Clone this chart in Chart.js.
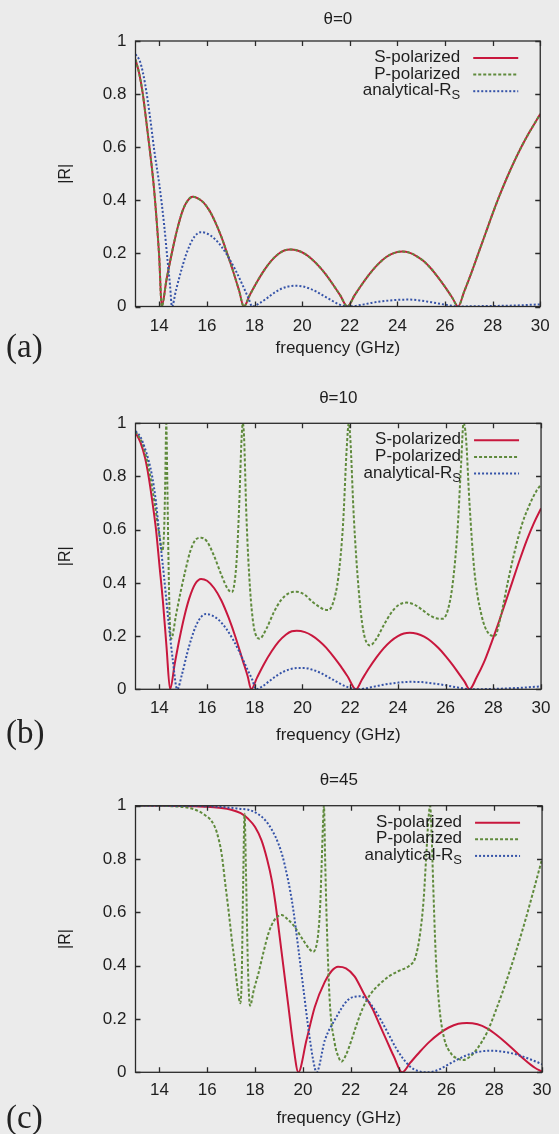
<!DOCTYPE html>
<html>
<head>
<meta charset="utf-8">
<script src="https://cdn.jsdelivr.net/npm/chart.js@4.4.1/dist/chart.umd.min.js"></script>
<style>
  html, body { margin: 0; padding: 0; background: #ebebeb; }
  #wrap { position: relative; width: 559px; height: 1134px; overflow: hidden; }
  canvas { position: absolute; left: 0; }
  .plabel { position: absolute; left: 6px; font: 33px "Liberation Serif", serif; color: #222; line-height: 33px; }
</style>
</head>
<body>
<div id="wrap">
  <canvas id="c0" width="559" height="380" style="top:0"></canvas>
  <canvas id="c10" width="559" height="380" style="top:380px"></canvas>
  <canvas id="c45" width="559" height="374" style="top:760px"></canvas>
  <div class="plabel" style="top:330px">(a)</div>
  <div class="plabel" style="top:716px">(b)</div>
  <div class="plabel" style="top:1101px">(c)</div>
</div>
<script>
// frequency ticks and |R| ticks
const xTicks = [14, 16, 18, 20, 22, 24, 26, 28, 30];
const yTicks = [0, 0.2, 0.4, 0.6, 0.8, 1];
const seriesNames = ['S-polarized', 'P-polarized', 'analytical-R'];

// theta = 0
const fS0 = [13.0,13.15,13.3,13.45,13.6,13.75,13.9,14.0,14.1,
  14.3,14.5,14.75,15.0,15.2,15.4,15.6,15.85,16.1,16.35,16.6,16.85,17.1,17.35,17.55,
  17.8,18.1,18.4,18.7,19.0,19.25,19.5,19.8,20.1,20.4,20.7,21.0,21.3,21.6,21.9,
  22.2,22.5,22.8,23.1,23.4,23.7,24.0,24.2,24.5,24.8,25.1,25.4,25.7,26.0,26.3,26.55,
  26.8,27.1,27.4,27.7,28.0,28.3,28.6,28.9,29.2,29.5,29.8,30.0];
const rS0 = [0.93,0.88,0.805,0.70,0.59,0.47,0.31,0.18,0,
  0.10,0.19,0.29,0.366,0.40,0.413,0.408,0.392,0.362,0.318,0.264,0.20,0.133,0.06,0,
  0.043,0.092,0.136,0.172,0.198,0.211,0.215,0.211,0.199,0.179,0.152,0.12,0.082,0.042,0,
  0.042,0.082,0.119,0.151,0.177,0.195,0.205,0.207,0.203,0.19,0.171,0.144,0.111,0.074,0.034,0,
  0.055,0.125,0.20,0.275,0.35,0.42,0.485,0.545,0.60,0.65,0.695,0.725];
const fP0 = fS0;
const rP0 = rS0;
const fA0 = [13.0,13.2,13.4,13.6,13.8,14.0,14.2,14.35,14.45,14.53,
  14.7,14.9,15.1,15.3,15.5,15.74,16.0,16.3,16.6,16.9,17.2,17.5,17.75,17.9,
  18.2,18.5,18.8,19.1,19.4,19.7,20.0,20.3,20.6,20.9,21.2,21.5,21.9,
  22.2,22.6,23.0,23.5,24.0,24.5,25.0,25.5,26.0,26.6,27.2,28.0,29.0,30.0];
const rA0 = [0.95,0.92,0.84,0.72,0.58,0.46,0.31,0.17,0.08,0,
  0.061,0.129,0.189,0.235,0.266,0.28,0.275,0.257,0.227,0.186,0.137,0.08,0.03,0,
  0.012,0.03,0.05,0.066,0.075,0.078,0.076,0.068,0.056,0.04,0.025,0.01,0,
  0.002,0.008,0.015,0.021,0.025,0.026,0.022,0.015,0.007,0,0.001,0.002,0.004,0.008];

// theta = 10
const fS10 = [13.0,13.2,13.4,13.55,13.7,13.86,14.0,14.15,14.3,14.45,
  14.65,14.85,15.05,15.25,15.5,15.75,16.0,16.3,16.6,16.9,17.2,17.5,17.7,17.85,
  18.1,18.4,18.7,19.0,19.3,19.55,19.76,20.1,20.4,20.7,21.0,21.3,21.6,21.9,22.24,
  22.5,22.8,23.1,23.4,23.7,24.0,24.25,24.5,24.8,25.1,25.4,25.7,26.0,26.3,26.6,26.8,27.0,
  27.3,27.6,27.9,28.2,28.5,28.8,29.1,29.4,29.7,30.0];
const rS10 = [0.965,0.93,0.87,0.80,0.71,0.60,0.47,0.33,0.16,0,
  0.099,0.193,0.275,0.341,0.396,0.415,0.408,0.38,0.334,0.27,0.194,0.107,0.05,0,
  0.045,0.097,0.142,0.179,0.205,0.218,0.22,0.215,0.202,0.182,0.156,0.123,0.087,0.047,0,
  0.038,0.081,0.12,0.154,0.181,0.2,0.21,0.213,0.209,0.198,0.18,0.155,0.125,0.091,0.053,0.028,0,
  0.045,0.10,0.17,0.245,0.325,0.405,0.485,0.56,0.625,0.68];
const fP10 = [13.0,13.3,13.6,13.8,14.0,14.12,14.2,14.25,14.29,14.33,14.38,14.44,14.5,
  14.7,14.9,15.1,15.3,15.5,15.75,16.0,16.3,16.6,16.85,17.04,
  17.15,17.25,17.35,17.45,17.5,17.55,17.65,17.8,17.95,18.1,18.2,
  18.5,18.8,19.1,19.4,19.76,20.1,20.4,20.7,20.9,21.09,
  21.3,21.5,21.7,21.85,21.94,22.0,22.15,22.35,22.55,22.83,
  23.1,23.4,23.7,24.0,24.36,24.7,25.0,25.3,25.6,25.87,
  26.1,26.3,26.5,26.65,26.75,26.85,27.0,27.2,27.5,27.8,28.06,
  28.3,28.6,28.9,29.2,29.5,29.8,30.0];
const rP10 = [0.97,0.92,0.81,0.70,0.58,0.52,0.6,0.8,1.0,0.8,0.5,0.25,0.19,
  0.28,0.37,0.45,0.52,0.56,0.57,0.555,0.5,0.43,0.38,0.365,
  0.40,0.5,0.7,0.95,1.0,0.95,0.65,0.38,0.24,0.195,0.19,
  0.23,0.29,0.335,0.36,0.367,0.355,0.33,0.31,0.30,0.298,
  0.33,0.42,0.62,0.9,1.0,0.95,0.65,0.38,0.22,0.165,
  0.19,0.24,0.285,0.315,0.326,0.318,0.30,0.28,0.267,0.265,
  0.3,0.4,0.6,0.85,1.0,0.95,0.7,0.45,0.28,0.21,0.2,
  0.27,0.40,0.52,0.62,0.69,0.745,0.77];
const fA10 = [13.0,13.2,13.4,13.55,13.7,13.85,13.98,14.2,14.4,14.55,14.75,
  14.95,15.15,15.35,15.55,15.75,15.95,16.2,16.5,16.8,17.1,17.4,17.7,17.9,18.05,
  18.3,18.6,18.9,19.2,19.5,19.8,20.1,20.4,20.7,21.0,21.3,21.6,21.9,22.3,
  22.6,23.0,23.5,24.0,24.5,25.0,25.5,26.0,26.5,27.1,27.8,28.5,29.2,30.0];
const rA10 = [0.97,0.95,0.905,0.86,0.80,0.71,0.60,0.42,0.24,0.12,0,
  0.057,0.13,0.193,0.242,0.272,0.283,0.278,0.26,0.228,0.185,0.132,0.073,0.035,0,
  0.01,0.03,0.05,0.066,0.076,0.08,0.08,0.074,0.064,0.05,0.035,0.02,0.008,0,
  0.003,0.01,0.019,0.025,0.028,0.027,0.022,0.015,0.007,0,0.001,0.003,0.006,0.011];

// theta = 45
const fS45 = [13.0,14.0,15.0,15.5,16.0,16.5,17.0,17.4,17.72,18.0,18.27,18.5,18.7,18.85,19.0,19.18,19.39,19.6,19.81,
  20.15,20.5,20.92,21.2,21.47,21.8,22.16,22.58,22.9,23.2,23.5,23.8,24.15,
  24.5,24.9,25.3,25.7,26.1,26.5,26.85,27.3,27.7,28.1,28.5,28.9,29.3,29.7,30.0];
const rS45 = [1.0,1.0,0.999,0.998,0.996,0.992,0.985,0.972,0.95,0.92,0.87,0.80,0.72,0.635,0.53,0.40,0.25,0.10,0,
  0.121,0.246,0.34,0.38,0.396,0.39,0.36,0.29,0.24,0.18,0.12,0.06,0,
  0.037,0.078,0.115,0.145,0.168,0.182,0.185,0.18,0.165,0.14,0.11,0.077,0.045,0.017,0.003];
const fP45 = [13.0,14.0,14.5,15.0,15.5,15.9,16.2,16.4,16.6,16.75,16.9,17.03,17.15,17.24,17.32,17.38,
  17.44,17.5,17.56,17.62,17.7,17.79,
  17.95,18.14,18.35,18.56,18.8,19.11,19.35,19.6,20.01,20.25,20.43,
  20.55,20.64,20.72,20.78,20.84,20.88,20.93,20.99,21.12,21.33,21.5,21.61,
  21.8,22.03,22.25,22.5,22.8,23.2,23.6,24.0,24.45,24.7,
  24.9,25.05,25.15,25.25,25.32,25.38,25.45,25.55,25.7,25.9,26.2,26.5,26.7,
  27.0,27.3,27.7,28.1,28.5,28.9,29.3,29.7,30.0];
const rP45 = [1.0,1.0,0.998,0.995,0.985,0.965,0.94,0.90,0.82,0.71,0.60,0.496,0.41,0.334,0.28,0.259,
  0.35,0.7,0.97,0.75,0.4,0.25,
  0.31,0.371,0.45,0.521,0.57,0.59,0.575,0.552,0.496,0.465,0.452,
  0.47,0.52,0.62,0.77,0.93,1.0,0.8,0.584,0.271,0.109,0.055,0.04,
  0.065,0.12,0.18,0.24,0.29,0.33,0.36,0.38,0.40,0.43,
  0.52,0.65,0.8,0.95,1.0,0.9,0.7,0.45,0.25,0.13,0.07,0.05,0.046,
  0.06,0.09,0.15,0.24,0.34,0.45,0.57,0.70,0.80];
const fA45 = [13.0,15.0,16.0,16.5,17.0,17.4,17.72,18.1,18.42,18.7,18.97,19.15,19.32,19.47,19.6,19.8,20.01,20.22,20.43,20.57,
  20.92,21.33,21.88,22.4,22.7,23.0,23.3,23.6,23.9,24.2,24.5,24.8,25.2,
  25.5,25.8,26.1,26.4,26.8,27.2,27.6,27.9,28.3,28.7,29.1,29.5,29.8,30.0];
const rA45 = [1.0,0.999,0.998,0.996,0.992,0.988,0.985,0.97,0.946,0.91,0.859,0.81,0.746,0.68,0.608,0.471,0.321,0.171,0.046,0,
  0.121,0.196,0.271,0.285,0.27,0.235,0.19,0.14,0.09,0.05,0.02,0.005,0,
  0.004,0.015,0.03,0.045,0.062,0.074,0.08,0.081,0.078,0.072,0.062,0.049,0.038,0.03];

const FONT = '"Liberation Sans", Arial, sans-serif';
const TXT = '#1e1e1e';

function pts(fs, rs) {
  return fs.map((f, i) => ({ x: f, y: rs[i] }));
}

// frame with inward ticks on all sides, panel title and a gnuplot-style key
const framePlugin = {
  id: 'frame',
  afterDatasetsDraw(chart, args, opts) {
    const { ctx, chartArea: a, scales: { x, y } } = chart;
    ctx.save();
    ctx.strokeStyle = '#2a2a2a';
    ctx.lineWidth = 1.3;
    ctx.strokeRect(a.left, a.top, a.right - a.left, a.bottom - a.top);
    ctx.beginPath();
    x.ticks.forEach(t => {
      const px = Math.round(x.getPixelForValue(t.value)) + 0.5;
      ctx.moveTo(px, a.bottom); ctx.lineTo(px, a.bottom - 5);
      ctx.moveTo(px, a.top); ctx.lineTo(px, a.top + 5);
    });
    y.ticks.forEach(t => {
      const py = Math.round(y.getPixelForValue(t.value)) + 0.5;
      ctx.moveTo(a.left, py); ctx.lineTo(a.left + 5, py);
      ctx.moveTo(a.right, py); ctx.lineTo(a.right - 5, py);
    });
    ctx.stroke();

    ctx.fillStyle = TXT;
    ctx.font = '17px ' + FONT;
    ctx.textAlign = 'center';
    ctx.textBaseline = 'middle';
    ctx.fillText(opts.title, (a.left + a.right) / 2, opts.titleY);

    chart.data.datasets.forEach((ds, i) => {
      const ty = a.top + 16.5 + i * 16.6;
      const tx = a.right - 80;
      ctx.fillStyle = TXT;
      ctx.textAlign = 'right';
      ctx.textBaseline = 'middle';
      if (ds.sub) {
        ctx.font = '13px ' + FONT;
        const sw = ctx.measureText(ds.sub).width;
        ctx.fillText(ds.sub, tx, ty + 5);
        ctx.font = '17px ' + FONT;
        ctx.fillText(ds.label, tx - sw, ty);
      } else {
        ctx.font = '17px ' + FONT;
        ctx.fillText(ds.label, tx, ty);
      }
      ctx.beginPath();
      ctx.strokeStyle = ds.borderColor;
      ctx.lineWidth = ds.borderWidth;
      ctx.setLineDash(ds.borderDash || []);
      ctx.moveTo(a.right - 67, ty + 0.5);
      ctx.lineTo(a.right - 22, ty + 0.5);
      ctx.stroke();
      ctx.setLineDash([]);
    });
    ctx.restore();
  }
};

function makePanel(id, title, layout, s, p, an) {
  const ctx = document.getElementById(id).getContext('2d');
  return new Chart(ctx, {
    type: 'line',
    data: {
      datasets: [
        { label: seriesNames[0], data: pts(s[0], s[1]), borderColor: '#c8173d', borderWidth: 2, order: 3 },
        { label: seriesNames[1], data: pts(p[0], p[1]), borderColor: '#5f8a3c', borderWidth: 2, borderDash: [3, 2], order: 2 },
        { label: seriesNames[2], sub: 'S', data: pts(an[0], an[1]), borderColor: '#3553a8', borderWidth: 2, borderDash: [2, 2], order: 1 }
      ]
    },
    options: {
      responsive: false,
      animation: false,
      devicePixelRatio: 1,
      layout: { padding: { top: layout.top, right: 14, left: 0, bottom: 0 } },
      elements: {
        point: { radius: 0 },
        line: { cubicInterpolationMode: 'monotone', fill: false }
      },
      plugins: {
        legend: { display: false },
        tooltip: { enabled: false },
        frame: { title: title, titleY: layout.titleY }
      },
      scales: {
        x: {
          type: 'linear', min: 13, max: 30,
          afterBuildTicks: sc => { sc.ticks = xTicks.map(v => ({ value: v })); },
          afterFit: sc => { sc.height = layout.xh; },
          grid: { display: false, drawTicks: false },
          border: { display: false },
          ticks: { padding: layout.tickPad, color: TXT, font: { size: 17, family: FONT }, maxRotation: 0, autoSkip: false },
          title: { display: true, text: 'frequency (GHz)', color: TXT, font: { size: 17, family: FONT }, padding: { top: 0, bottom: layout.xtPad } }
        },
        y: {
          type: 'linear', min: 0, max: 1,
          afterBuildTicks: sc => { sc.ticks = yTicks.map(v => ({ value: v })); },
          afterFit: sc => { sc.width = 135.5; },
          grid: { display: false, drawTicks: false },
          border: { display: false },
          ticks: { padding: 9, color: TXT, font: { size: 17, family: FONT }, callback: v => String(v) },
          title: { display: true, text: '|R|', color: TXT, font: { size: 16, family: FONT }, padding: { top: 56, bottom: 0 } }
        }
      }
    },
    plugins: [framePlugin]
  });
}

makePanel('c0', 'θ=0', { top: 41, xh: 73.5, tickPad: 9.3, xtPad: 21.8, titleY: 19.6 },
  [fS0, rS0], [fP0, rP0], [fA0, rA0]);
makePanel('c10', 'θ=10', { top: 43.3, xh: 70.7, tickPad: 8.5, xtPad: 14.8, titleY: 18 },
  [fS10, rS10], [fP10, rP10], [fA10, rA10]);
makePanel('c45', 'θ=45', { top: 45.7, xh: 61.7, tickPad: 7.5, xtPad: 5.8, titleY: 20 },
  [fS45, rS45], [fP45, rP45], [fA45, rA45]);
</script>
</body>
</html>
